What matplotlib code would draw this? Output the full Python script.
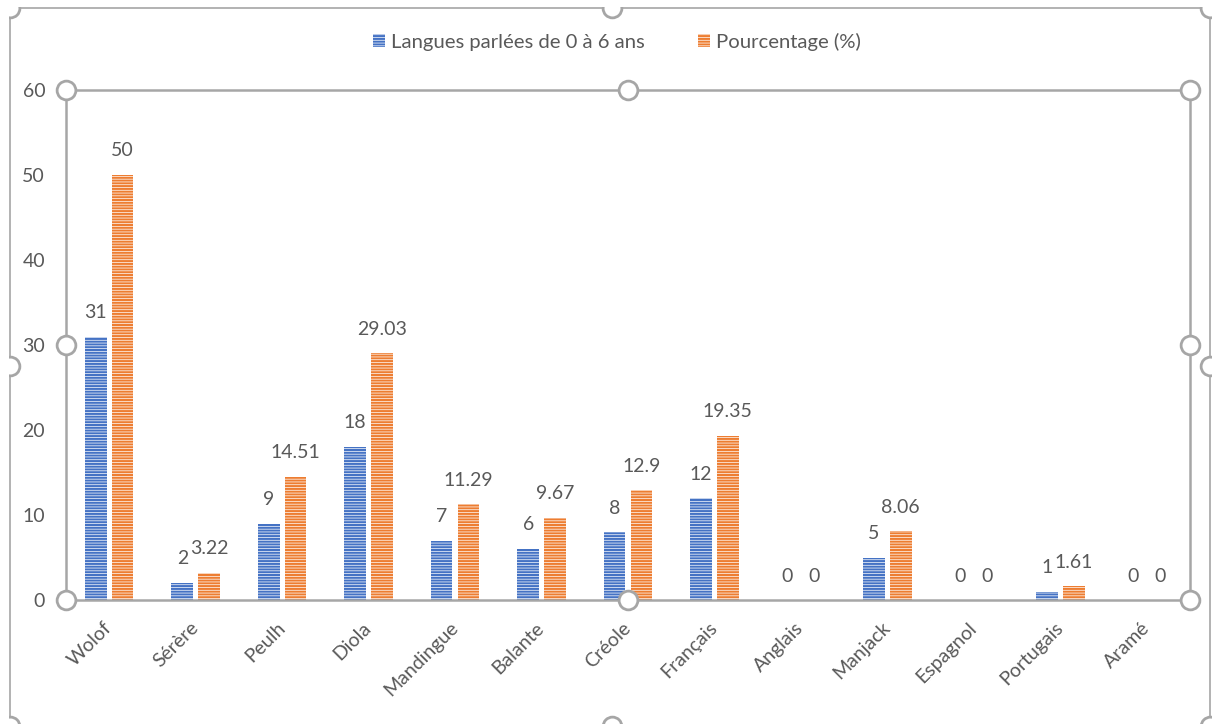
import matplotlib
matplotlib.use("Agg")
import matplotlib.pyplot as plt
from matplotlib.lines import Line2D
from matplotlib.patches import Rectangle
import numpy as np

categories = ["Wolof", "Sérère", "Peulh", "Diola", "Mandingue", "Balante", "Créole",
              "Français", "Anglais", "Manjack", "Espagnol", "Portugais", "Aramé"]
langues = [31, 2, 9, 18, 7, 6, 8, 12, 0, 5, 0, 1, 0]
pourcentage = [50, 3.22, 14.51, 29.03, 11.29, 9.67, 12.9, 19.35, 0, 8.06, 0, 1.61, 0]
series_names = ["Langues parlées de 0 à 6 ans", "Pourcentage (%)"]
yticks = [0, 10, 20, 30, 40, 50, 60]

W, H = 1215, 724
BLUE = "#4472C4"
ORANGE = "#ED7D31"
TXT = "#595959"
FRAME = "#A6A6A6"

plt.rcParams['font.family'] = ['Lato', 'DejaVu Sans']
plt.rcParams['hatch.linewidth'] = 0.5

fig = plt.figure(figsize=(W / 100, H / 100), dpi=100)
fig.patch.set_facecolor("white")

# plot area in pixels: left 66, top 90, right 1190, bottom 600
L, T, R, B = 66, 90, 1190, 600
ax = fig.add_axes([L / W, 1 - B / H, (R - L) / W, (B - T) / H])

x = np.arange(len(categories))
bw = 0.25
off = 0.155
b1 = ax.bar(x - off, langues, bw, color=BLUE, edgecolor="white", linewidth=0,
            hatch="------", label=series_names[0])
b2 = ax.bar(x + off, pourcentage, bw, color=ORANGE, edgecolor="white", linewidth=0,
            hatch="------", label=series_names[1])

def fmt(v):
    return str(int(v)) if float(v).is_integer() else f"{v:g}"

for xs, vals in ((x - off, langues), (x + off, pourcentage)):
    for xi, v in zip(xs, vals):
        ax.annotate(fmt(v), (xi, v), xytext=(0, 24 * 0.72), textcoords="offset points",
                    ha="center", va="center", fontsize=14, color=TXT)

ax.set_xlim(-0.5, len(categories) - 0.5)
ax.set_ylim(0, 60)
ax.set_yticks(yticks)
ax.set_yticklabels([str(t) for t in yticks], fontsize=14, color=TXT)
ax.set_xticks(x)
ax.set_xticklabels(categories, rotation=45, ha="right", va="center",
                   rotation_mode="anchor", fontsize=14, color=TXT)
ax.tick_params(axis="y", length=0, pad=15)
ax.tick_params(axis="x", length=0, pad=18)
for s in ax.spines.values():
    s.set_color(FRAME)
    s.set_linewidth(1.8)

# legend
fig.legend(handles=[b1, b2], labels=series_names, loc="center",
           bbox_to_anchor=(617 / W, 1 - 42 / H), ncol=2, frameon=False,
           fontsize=14.6, labelcolor=TXT, handlelength=0.6, handleheight=0.6,
           handletextpad=0.3, columnspacing=2.6)

def px(xp, yp):
    return xp / W, 1 - yp / H

# outer chart border (selection frame)
OL, OT, OR, OB = 10, 8, 1210, 726
for (xa, ya), (xb, yb) in [((OL, OT), (OR, OT)), ((OL, OT), (OL, OB)), ((OR, OT), (OR, OB))]:
    p1, p2 = px(xa, ya), px(xb, yb)
    fig.add_artist(Line2D([p1[0], p2[0]], [p1[1], p2[1]], transform=fig.transFigure,
                          color=FRAME, linewidth=1.2, clip_on=False))

clip_rect = Rectangle(px(OL - 1, OB), (OR - OL + 2) / W, (OB - OT + 1) / H,
                      transform=fig.transFigure, facecolor="none", edgecolor="none")
fig.add_artist(clip_rect)

def handle(xp, yp, clip=False):
    fx, fy = px(xp, yp)
    ln = Line2D([fx], [fy], transform=fig.transFigure, marker="o",
                markersize=13.5, markerfacecolor="white",
                markeredgecolor=FRAME, markeredgewidth=2.0,
                linestyle="none", zorder=10)
    fig.add_artist(ln)
    if clip:
        ln.set_clip_path(clip_rect)
    else:
        ln.set_clip_on(False)

cx = (OL + OR) / 2 + 2
for hx, hy in [(OL, OT), (cx, OT), (OR, OT), (OL, 366), (OR, 366),
               (OL, OB), (cx, OB), (OR, OB)]:
    handle(hx, hy, clip=True)

pcx, pcy = (L + R) / 2, (T + B) / 2
for hx, hy in [(L, T), (pcx, T), (R, T), (L, pcy), (R, pcy), (L, B), (pcx, B), (R, B)]:
    handle(hx, hy)

fig.savefig("out.png", dpi=100)
